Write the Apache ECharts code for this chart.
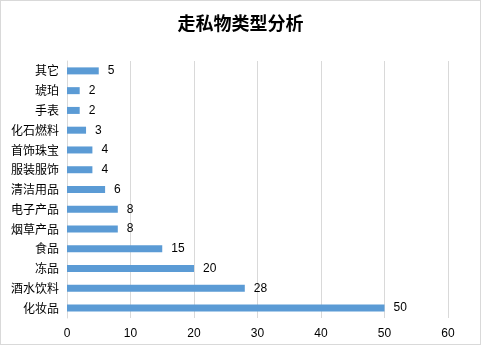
<!DOCTYPE html>
<html>
<head>
<meta charset="utf-8">
<script src="https://cdn.jsdelivr.net/npm/echarts@6/dist/echarts.min.js"></script>
<style>
  html, body { margin: 0; padding: 0; background: #fff; }
  #chart { width: 479px; height: 343px; border: 1px solid #d9d9d9; }
</style>
</head>
<body>
<div id="chart"></div>
<script>
// Smuggled goods by type (bottom to top)
const categories = ['化妆品', '酒水饮料', '冻品', '食品', '烟草产品', '电子产品', '清洁用品', '服装服饰', '首饰珠宝', '化石燃料', '手表', '琥珀', '其它'];
const counts = [50, 28, 20, 15, 8, 8, 6, 4, 4, 3, 2, 2, 5];
const xTicks = [0, 10, 20, 30, 40, 50, 60];

const chart = echarts.init(document.getElementById('chart'));
chart.setOption({
  animation: false,
  title: {
    text: '走私物类型分析',
    left: 'center',
    top: 8,
    textStyle: {
      fontFamily: '"Noto Sans CJK SC", serif',
      fontSize: 18,
      fontWeight: 'bold',
      color: '#000'
    }
  },
  grid: { left: 66, right: 32, top: 60, bottom: 26, containLabel: false },
  xAxis: {
    type: 'value',
    min: xTicks[0],
    max: xTicks[xTicks.length - 1],
    interval: 10,
    axisLine: { show: false },
    axisTick: { show: false },
    splitLine: { lineStyle: { color: '#d9d9d9', width: 1 } },
    axisLabel: { color: '#000', fontSize: 12, margin: 10, fontFamily: 'sans-serif' }
  },
  yAxis: {
    type: 'category',
    data: categories,
    axisLine: { show: true, lineStyle: { color: '#d9d9d9' } },
    axisTick: { show: false },
    axisLabel: { color: '#000', fontSize: 12, margin: 8, fontFamily: '"Noto Sans CJK SC", sans-serif' }
  },
  series: [{
    type: 'bar',
    data: counts,
    barWidth: 7,
    itemStyle: { color: '#5b9bd5' },
    label: {
      show: true,
      position: 'right',
      distance: 9,
      color: '#000',
      fontSize: 12,
      fontFamily: 'sans-serif'
    }
  }]
});
</script>
</body>
</html>
